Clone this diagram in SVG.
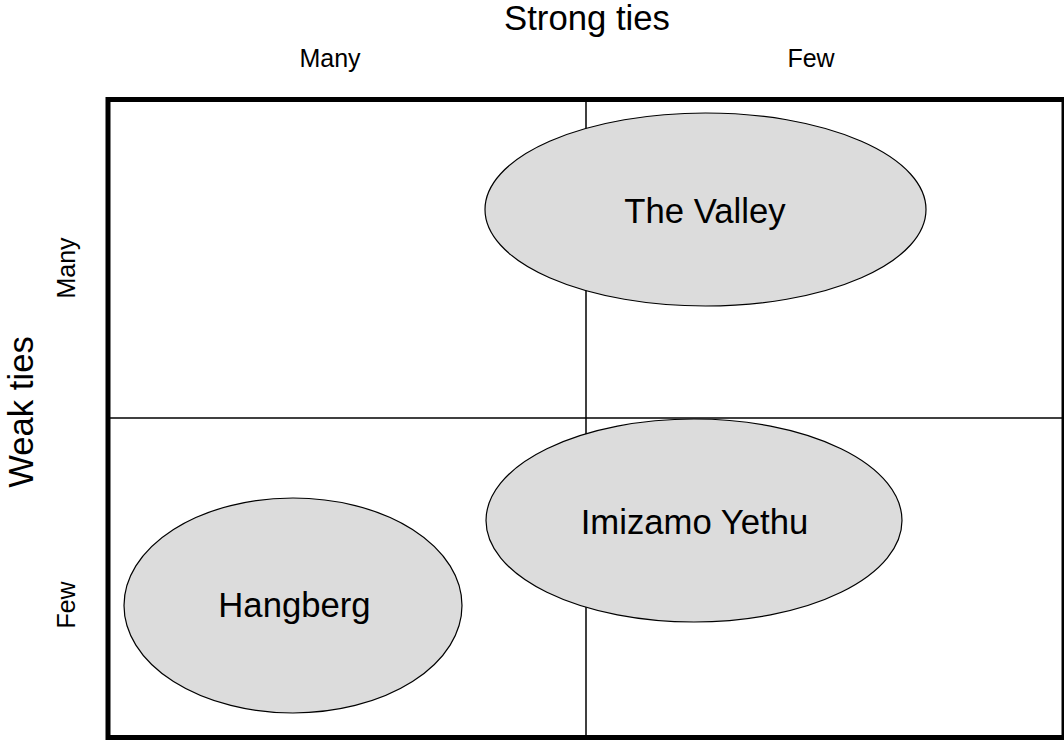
<svg xmlns="http://www.w3.org/2000/svg" width="1064" height="740" viewBox="0 0 1064 740">
<style>
text{font-family:"Liberation Sans",Arial,sans-serif;fill:#000;text-anchor:middle}
.big{font-size:34.7px}
.small{font-size:25px}
.node{fill:#dcdcdc;stroke:#000;stroke-width:1.2}
.div{stroke:#000;stroke-width:1.5;fill:none}
</style>
<rect x="0" y="0" width="1064" height="740" fill="#fff"/>
<g id="grid">
<rect x="108" y="99.5" width="956" height="638" fill="#fff" stroke="#000" stroke-width="5"/>
<line class="div" x1="586" y1="99.5" x2="586" y2="737.5"/>
<line class="div" x1="108" y1="418" x2="1064" y2="418"/>
</g>
<g id="axis-labels">
<text class="big" x="587" y="30">Strong ties</text>
<text class="small" x="330" y="67">Many</text>
<text class="small" x="811" y="67">Few</text>
<text class="big" transform="translate(33,412) rotate(-90)">Weak ties</text>
<text class="small" transform="translate(75,268) rotate(-90)">Many</text>
<text class="small" transform="translate(75,605) rotate(-90)">Few</text>
</g>
<g id="connectors"></g>
<g id="the-valley">
<ellipse class="node" cx="705.5" cy="209.5" rx="220.5" ry="96.5"/>
<text class="big" x="705" y="223">The Valley</text>
</g>
<g id="imizamo-yethu">
<ellipse class="node" cx="694" cy="520.5" rx="208" ry="101.5"/>
<text class="big" x="694.5" y="534">Imizamo Yethu</text>
</g>
<g id="hangberg">
<ellipse class="node" cx="293" cy="605.5" rx="169" ry="107.5"/>
<text class="big" x="294.5" y="617">Hangberg</text>
</g>
</svg>
